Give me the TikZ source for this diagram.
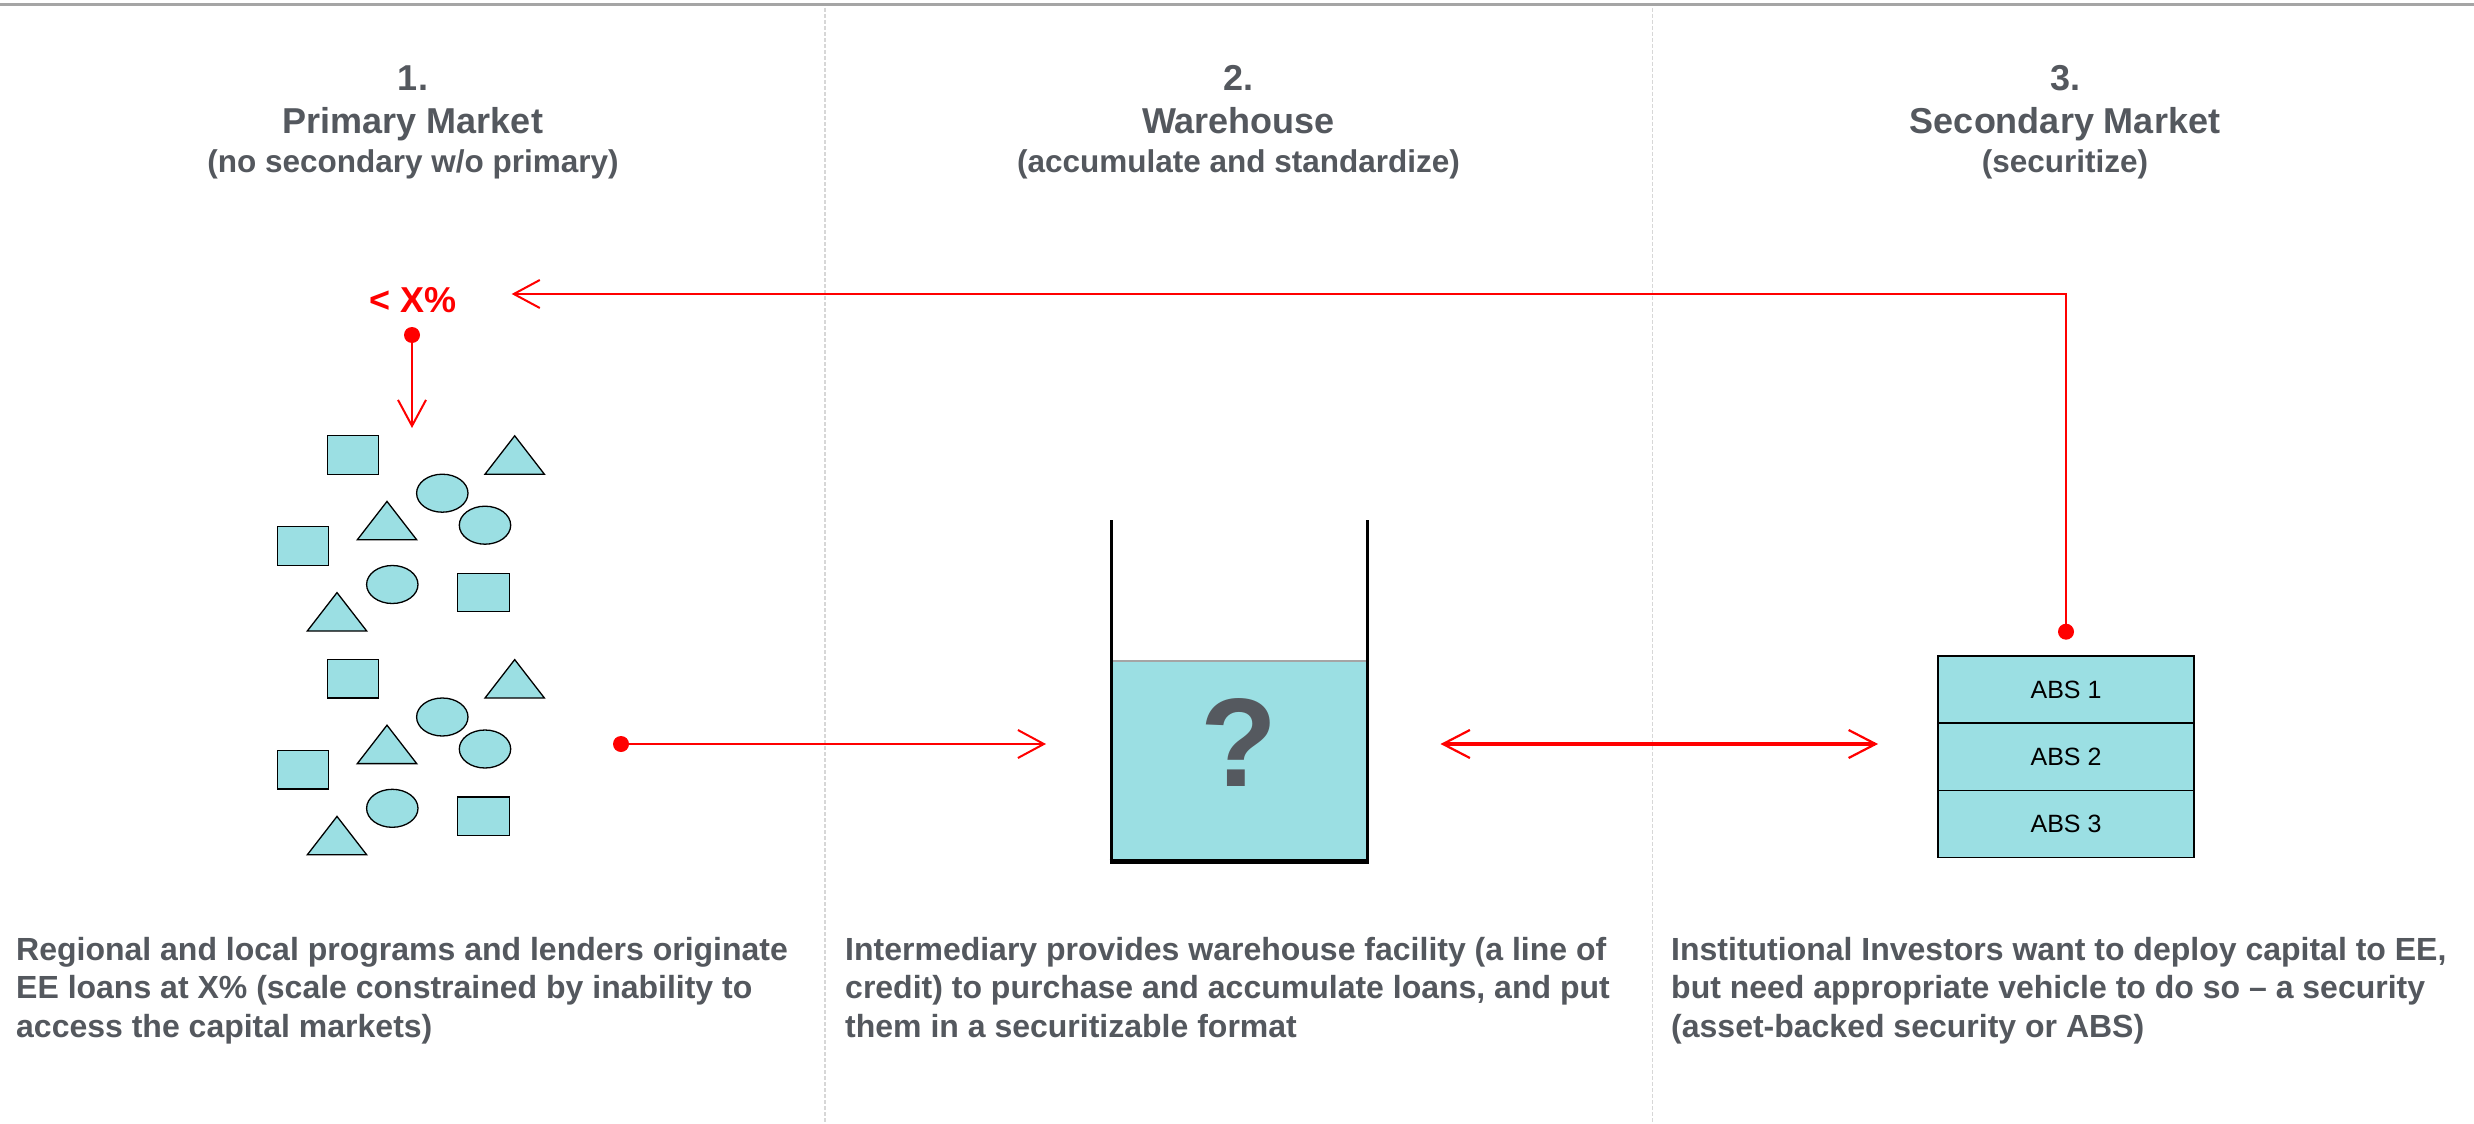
\documentclass[tikz,border=0pt]{standalone}
\usepackage{fontspec}
\setmainfont{Liberation Sans}
\usetikzlibrary{arrows.meta,shapes.geometric}
\definecolor{txtgrey}{RGB}{84,88,94}
\definecolor{aqua}{RGB}{155,223,227}
\definecolor{divgrey}{RGB}{215,215,215}
\definecolor{topgrey}{RGB}{165,165,165}
\definecolor{qgrey}{RGB}{85,89,95}
\tikzset{
  hdr/.style={font=\fontsize{36}{40}\selectfont\bfseries, text=txtgrey, anchor=base, inner sep=0pt},
  subhdr/.style={font=\fontsize{31.5}{38}\selectfont\bfseries, text=txtgrey, anchor=base, inner sep=0pt},
  body/.style={font=\fontsize{32}{38}\selectfont\bfseries, text=txtgrey, anchor=base west, inner sep=0pt},
  shp/.style={draw=black, fill=aqua, line width=1.3pt},
  rbox/.style={shp, rectangle, minimum width=51.4pt, minimum height=38.4pt, inner sep=0pt},
  oval/.style={shp, ellipse, minimum width=51.4pt, minimum height=38pt, inner sep=0pt},
  tri/.pic={\draw[shp] (-29.7,19.2) -- (0,-19.2) -- (29.7,19.2) -- cycle;},
  reddot/.style={circle, fill=red, minimum size=16pt, inner sep=0pt},
  redarrow/.style={draw=red, line width=2pt, -{Straight Barb[length=26pt,width=28pt]}},
  dblarrow/.style={draw=red, line width=4pt, {Straight Barb[length=27pt,width=28pt,line width=2.2pt]}-{Straight Barb[length=27pt,width=28pt,line width=2.2pt]}},
  abs/.style={shp, line width=1.6pt, rectangle, minimum width=256.4pt, minimum height=67.3pt, inner sep=0pt, font=\fontsize{25}{30}\selectfont, text=black},
  divider/.style={draw=divgrey, line width=1.5pt, dash pattern=on 4pt off 2pt},
}
\begin{document}
\begin{tikzpicture}[x=1pt,y=-1pt]
\useasboundingbox (0,0) rectangle (2474,1124);
\fill[white] (0,0) rectangle (2474,1124);
% top rule and column dividers
\draw[topgrey, line width=3pt] (0,4.5) -- (2474,4.5);
\draw[divider] (825,8) -- (825,1124);
\draw[divider] (1652.5,8) -- (1652.5,1124);

% headers
\node[hdr] (h1a) at (413,90) {1.};
\node[hdr] (h1b) at (413,133) {Primary Market};
\node[subhdr] (h1c) at (413,172) {(no secondary w/o primary)};
\node[hdr] (h2a) at (1238.5,90) {2.};
\node[hdr] (h2b) at (1238.5,133) {Warehouse};
\node[subhdr] (h2c) at (1238.5,172) {(accumulate and standardize)};
\node[hdr] (h3a) at (2065,90) {3.};
\node[hdr] (h3b) at (2065,133) {Secondary Market};
\node[subhdr] (h3c) at (2065,172) {(securitize)};

% loans shapes, two groups
\foreach \dy/\g in {0/a,223.8/b}{
  \node[rbox] (r1\g) at (353,455+\dy) {};
  \pic at (514.7,455+\dy) {tri};
  \node[oval] (e1\g) at (442.3,493.2+\dy) {};
  \pic at (387,520.6+\dy) {tri};
  \node[oval] (e2\g) at (485,525.2+\dy) {};
  \node[rbox] (r2\g) at (303,546+\dy) {};
  \node[oval] (e3\g) at (392.3,584.5+\dy) {};
  \node[rbox] (r3\g) at (483.5,592.4+\dy) {};
  \pic at (337,611.8+\dy) {tri};
}

% < X% label and arrow
\node[text=red, font=\fontsize{36}{40}\selectfont\bfseries, inner sep=0pt] (xpct) at (413,300) {< X\%};
\node[reddot] (d1) at (412,335) {};
\coordinate (c1) at (412,428);
\draw[redarrow] (d1) -- (c1);

% bucket (warehouse)
\fill[aqua] (1111,660.5) rectangle (1367,860);
\draw[topgrey, line width=2pt] (1112.5,660.5) -- (1365.5,660.5);
\draw[black, line width=3pt] (1111,520) -- (1111,861) -- (1367,861) -- (1367,520);
\draw[black, line width=5pt] (1109.5,861) -- (1368.5,861);
\node[text=qgrey, font=\fontsize{126}{130}\selectfont\bfseries, inner sep=0pt] (qm) at (1239,742.5) {?};

% primary -> warehouse arrow
\node[reddot] (d2) at (621,744) {};
\coordinate (c2) at (1046,744);
\draw[redarrow] (d2) -- (c2);

% warehouse <-> ABS arrow
\coordinate (c3) at (1440.5,744);
\coordinate (c4) at (1878,744);
\draw[dblarrow] (c3) -- (c4);

% ABS stack
\node[abs] (abs1) at (2066,689.4) {ABS 1};
\node[abs] (abs2) at (2066,756.7) {ABS 2};
\node[abs] (abs3) at (2066,824) {ABS 3};

% feedback arrow ABS -> < X%
\node[reddot] (d3) at (2066,631.7) {};
\coordinate (c5) at (511.7,294);
\draw[redarrow] (d3) |- (c5);

% bottom texts
\node[body] (t1a) at (16,960) {Regional and local programs and lenders originate};
\node[body] (t1b) at (16,998.5) {EE loans at X\% (scale constrained by inability to};
\node[body] (t1c) at (16,1037) {access the capital markets)};
\node[body] (t2a) at (845,960) {Intermediary provides warehouse facility (a line of};
\node[body] (t2b) at (845,998.5) {credit) to purchase and accumulate loans, and put};
\node[body] (t2c) at (845,1037) {them in a securitizable format};
\node[body] (t3a) at (1671,960) {Institutional Investors want to deploy capital to EE,};
\node[body] (t3b) at (1671,998.5) {but need appropriate vehicle to do so – a security};
\node[body] (t3c) at (1671,1037) {(asset-backed security or ABS)};
\end{tikzpicture}
\end{document}
